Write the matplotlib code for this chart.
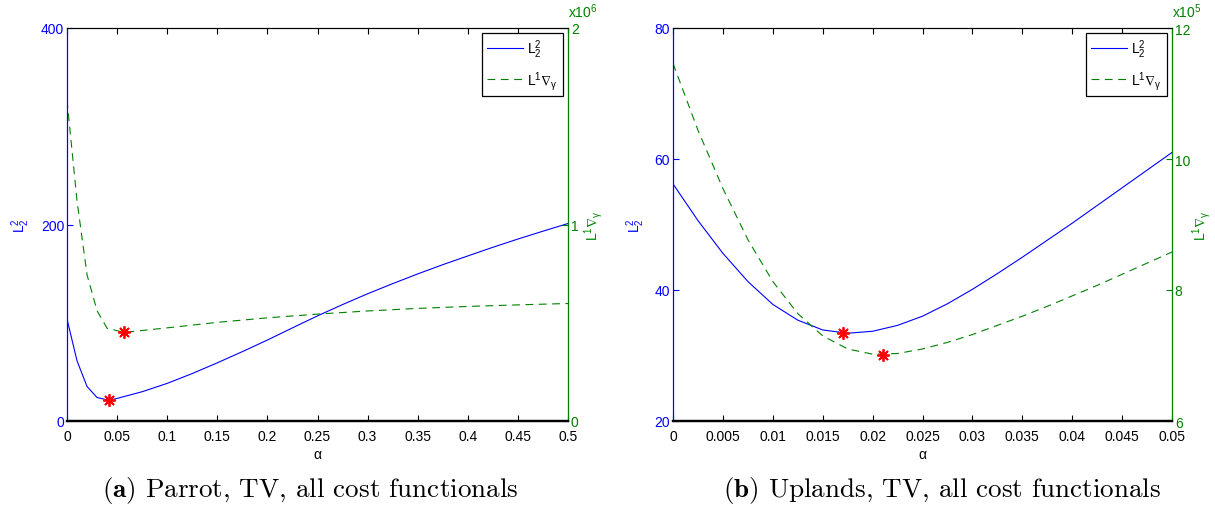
import matplotlib

matplotlib.use("Agg")
import matplotlib.pyplot as plt

# --- данные ---
# (a) Parrot: alpha 0..0.5, L2^2 (левая ось), L1 grad (правая ось, x10^6)
parrot_alpha_l2 = [0, 0.01, 0.02, 0.03, 0.042, 0.05, 0.075, 0.1, 0.125, 0.15, 0.175, 0.2,
                   0.225, 0.25, 0.275, 0.3, 0.325, 0.35, 0.375, 0.4, 0.425, 0.45, 0.475, 0.5]
parrot_l2 = [103.8, 61.2, 35.1, 23.9, 21.1, 23.0, 29.8, 38.3, 48.3, 59.2, 70.6, 82.4,
             94.8, 107.0, 118.5, 129.5, 139.8, 149.7, 159.1, 168.0, 176.8, 185.2, 193.2, 201.0]
parrot_alpha_l1 = [0, 0.01, 0.02, 0.03, 0.04, 0.057, 0.1, 0.15, 0.2, 0.25, 0.3, 0.35, 0.4, 0.45, 0.5]
parrot_l1 = [1.633, 1.12, 0.744, 0.561, 0.472, 0.451, 0.474, 0.502, 0.525, 0.544, 0.560,
             0.573, 0.583, 0.591, 0.598]
parrot_min_l2 = (0.042, 21.1)
parrot_min_l1 = (0.057, 0.451)

# (b) Uplands: alpha 0..0.05, L2^2 (левая ось), L1 grad (правая ось, x10^5)
uplands_alpha = [0, 0.0025, 0.005, 0.0075, 0.01, 0.0125, 0.015, 0.0175, 0.02, 0.0225, 0.025,
                 0.0275, 0.03, 0.0325, 0.035, 0.0375, 0.04, 0.0425, 0.045, 0.0475, 0.05]
uplands_l2 = [56.2, 50.6, 45.6, 41.3, 37.8, 35.4, 33.9, 33.4, 33.7, 34.6, 36.0,
              37.9, 40.1, 42.5, 45.0, 47.6, 50.2, 52.9, 55.6, 58.3, 61.0]
uplands_l1 = [11.46, 10.44, 9.55, 8.77, 8.13, 7.64, 7.30, 7.10, 7.02, 7.03, 7.10,
              7.20, 7.32, 7.46, 7.60, 7.75, 7.91, 8.07, 8.24, 8.41, 8.58]
uplands_min_l2 = (0.017, 33.4)
uplands_min_l1 = (0.021, 7.01)

BLUE = (0, 0, 1)
GREEN = (0, 0.5, 0)

plt.rcParams["font.family"] = ["Liberation Sans", "DejaVu Sans"]
plt.rcParams["mathtext.fontset"] = "custom"
plt.rcParams["mathtext.rm"] = "Liberation Sans"
plt.rcParams["mathtext.it"] = "Liberation Sans:italic"
plt.rcParams["mathtext.bf"] = "Liberation Sans:bold"

FS = 10
STAR = dict(marker=(8, 2, 0), color="red", ms=9, mew=1.3, ls="none", zorder=5)


def panel(rect, alpha_l2, l2, alpha_l1, l1, min_l2, min_l1,
          xlim, xticks, ylim, yticks, y2lim, y2ticks, expo,
          ylab_x, y2lab_x, caption, cap_x):
    ax = fig.add_axes(rect)
    ax2 = ax.twinx()
    ax.plot(alpha_l2, l2, color=BLUE, lw=0.8, label=r"$\mathregular{L_2^2}$")
    ax2.plot(alpha_l1, l1, color=GREEN, lw=0.8, dashes=(7, 5),
             label=r"$\mathregular{L^1\nabla_\gamma}$")
    ax.plot(*min_l2, **STAR)
    ax2.plot(*min_l1, **STAR)

    ax.set_xlim(xlim)
    ax.set_xticks(xticks)
    ax.set_xticklabels([f"{t:g}" for t in xticks])
    ax.set_ylim(ylim)
    ax.set_yticks(yticks)
    ax2.set_ylim(y2lim)
    ax2.set_yticks(y2ticks)
    ax2.set_xlim(xlim)

    ax.tick_params(axis="x", direction="in", top=True, length=4, labelsize=FS, pad=6, colors="k")
    ax.tick_params(axis="y", direction="in", length=4, labelsize=FS, pad=2,
                   colors=BLUE, right=False)
    ax2.tick_params(axis="y", direction="in", length=4, labelsize=FS, pad=2, colors=GREEN)
    ax.spines["left"].set_color(BLUE)
    ax.spines["bottom"].set_linewidth(1.6)
    ax2.spines["left"].set_color(BLUE)
    ax2.spines["right"].set_color(GREEN)
    ax2.spines["bottom"].set_linewidth(1.6)

    ax.set_xlabel("α", fontsize=FS, labelpad=3)
    ax.set_ylabel(r"$\mathregular{L_2^2}$", color=BLUE, fontsize=FS)
    ax.yaxis.set_label_coords(ylab_x, 0.5)
    ax2.set_ylabel(r"$\mathregular{L^1\nabla_\gamma}$", color=GREEN, fontsize=FS, rotation=90)
    ax2.yaxis.set_label_coords(y2lab_x, 0.5)
    ax2.text(1.0, 1.02, r"x$\mathregular{10^{%d}}$" % expo, transform=ax2.transAxes,
             color=GREEN, fontsize=FS, ha="left", va="bottom")

    h1, lab1 = ax.get_legend_handles_labels()
    h2, lab2 = ax2.get_legend_handles_labels()
    leg = ax2.legend(h1 + h2, lab1 + lab2, loc="upper right", fontsize=FS,
                     fancybox=False, edgecolor="k", framealpha=1, borderaxespad=0.35,
                     handlelength=2.6, handletextpad=0.3, borderpad=0.35, labelspacing=0.6)
    leg.get_frame().set_linewidth(0.9)

    fig.text(cap_x, 0.018, caption, fontsize=19.5, family="cmr10", math_fontfamily="cm",
             ha="center", va="baseline")
    return ax, ax2


fig = plt.figure(figsize=(12.15, 5.06), dpi=100)

panel([67 / 1215, 1 - 422 / 506, 501 / 1215, 393 / 506],
      parrot_alpha_l2, parrot_l2, parrot_alpha_l1, parrot_l1, parrot_min_l2, parrot_min_l1,
      (0, 0.5), [0, 0.05, 0.1, 0.15, 0.2, 0.25, 0.3, 0.35, 0.4, 0.45, 0.5],
      (0, 400), [0, 200, 400], (0, 2), [0, 1, 2], 6, -0.07, 1.028,
      r"$\mathbf{(a)}$ Parrot, TV, all cost functionals", 310 / 1215)

panel([673 / 1215, 1 - 422 / 506, 499 / 1215, 393 / 506],
      uplands_alpha, uplands_l2, uplands_alpha, uplands_l1, uplands_min_l2, uplands_min_l1,
      (0, 0.05), [0, 0.005, 0.01, 0.015, 0.02, 0.025, 0.03, 0.035, 0.04, 0.045, 0.05],
      (20, 80), [20, 40, 60, 80], (6, 12), [6, 8, 10, 12], 5, -0.052, 1.036,
      r"$\mathbf{(b)}$ Uplands, TV, all cost functionals", 942 / 1215)

fig.savefig("out.png", dpi=100)
